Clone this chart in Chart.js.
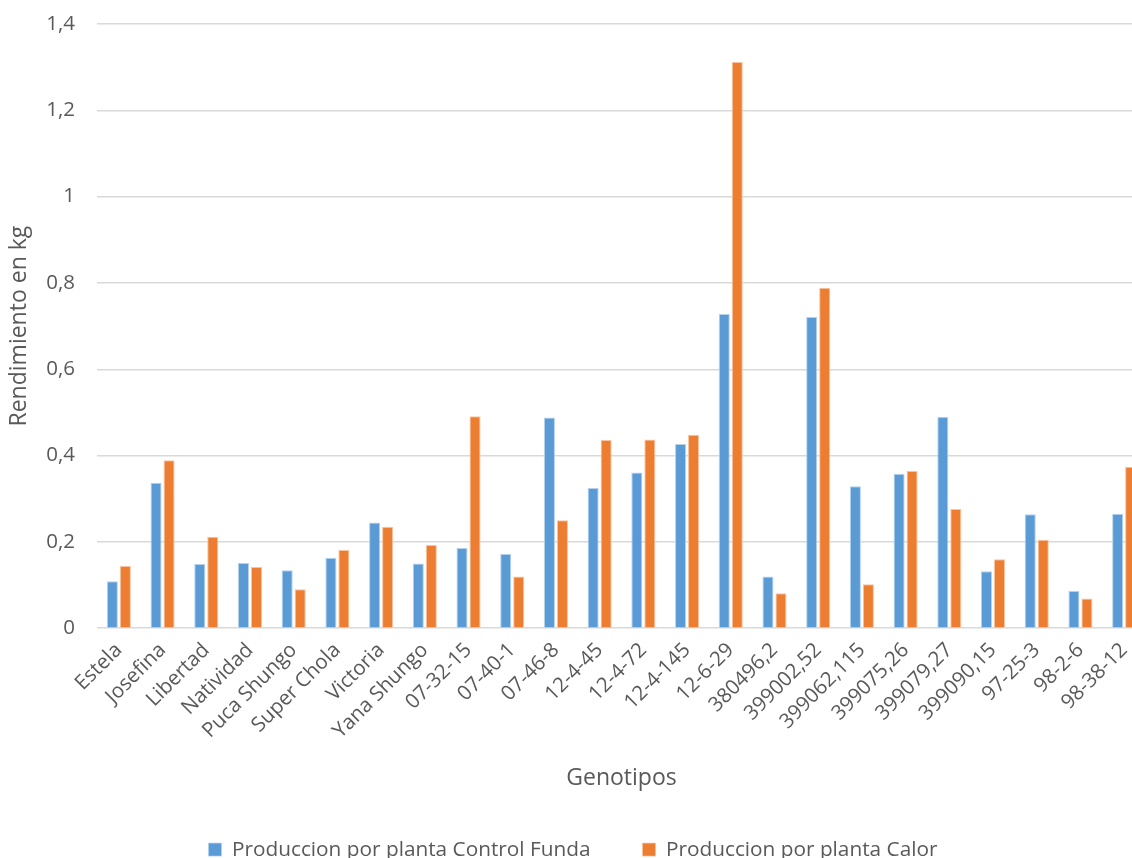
<!DOCTYPE html>
<html>
<head>
<meta charset="utf-8">
<script src="https://cdn.jsdelivr.net/npm/chart.js@4/dist/chart.umd.min.js"></script>
<style>
  html, body { margin: 0; padding: 0; background: #fff; overflow: hidden; }
  #wrap { width: 1160px; height: 858px; }
</style>
</head>
<body>
<div id="wrap"><canvas id="chart"></canvas></div>
<script>
// --- Data ---
const genotipos = [
  'Estela', 'Josefina', 'Libertad', 'Natividad', 'Puca Shungo', 'Super Chola',
  'Victoria', 'Yana Shungo', '07-32-15', '07-40-1', '07-46-8', '12-4-45',
  '12-4-72', '12-4-145', '12-6-29', '380496,2', '399002,52', '399062,115',
  '399075,26', '399079,27', '399090,15', '97-25-3', '98-2-6', '98-38-12'
];
const controlFunda = [
  0.109, 0.337, 0.149, 0.151, 0.134, 0.163, 0.245, 0.150, 0.186, 0.172, 0.488, 0.325,
  0.361, 0.427, 0.728, 0.120, 0.721, 0.329, 0.358, 0.490, 0.132, 0.264, 0.086, 0.265
];
const calor = [
  0.144, 0.389, 0.212, 0.142, 0.090, 0.181, 0.235, 0.193, 0.491, 0.120, 0.250, 0.436,
  0.437, 0.448, 1.312, 0.081, 0.789, 0.102, 0.364, 0.276, 0.160, 0.205, 0.069, 0.374
];
const seriesNames = ['Produccion por planta Control Funda', 'Produccion por planta Calor'];
const yTicks = [0, 0.2, 0.4, 0.6, 0.8, 1, 1.2, 1.4];

const textColor = '#595959';
const font = 'Open Sans';

const ctx = document.getElementById('chart').getContext('2d');
new Chart(ctx, {
  type: 'bar',
  data: {
    labels: genotipos,
    datasets: [
      { label: seriesNames[0], data: controlFunda, backgroundColor: '#5B9BD5', borderColor: '#B4D2EE', borderWidth: { top: 1, left: 1, right: 1 } },
      { label: seriesNames[1], data: calor, backgroundColor: '#ED7D31', borderColor: '#F7C3A0', borderWidth: { top: 1, left: 1, right: 1 } }
    ]
  },
  options: {
    responsive: true,
    maintainAspectRatio: false,
    animation: false,
    layout: { padding: { top: 24, right: 14, bottom: -12, left: 0 } },
    datasets: { bar: { categoryPercentage: 0.595, barPercentage: 0.85 } },
    plugins: {
      tooltip: { enabled: false },
      legend: {
        position: 'bottom',
        labels: {
          color: textColor,
          font: { family: font, size: 20.8 },
          boxWidth: 13, boxHeight: 13,
          padding: 52
        }
      }
    },
    scales: {
      x: {
        grid: { display: false },
        border: { display: false },
        ticks: {
          color: textColor, font: { family: font, size: 20.5 },
          maxRotation: 45, minRotation: 45, autoSkip: false, padding: 2
        },
        title: {
          display: true, text: 'Genotipos', color: textColor,
          font: { family: font, size: 23 }, padding: { top: 0, bottom: -5 }
        },
        afterFit: (scale) => { scale.height = 159; }
      },
      y: {
        min: 0, max: 1.4,
        afterBuildTicks: (scale) => { scale.ticks = yTicks.map(v => ({ value: v })); },
        grid: { color: '#D9D9D9', lineWidth: 1.5, drawTicks: false },
        border: { display: false },
        ticks: {
          color: textColor, font: { family: font, size: 20.5 }, padding: 22,
          callback: (v) => String(Math.round(v * 10) / 10).replace('.', ',')
        },
        title: {
          display: true, text: 'Rendimiento en kg', color: textColor,
          font: { family: font, size: 23 }, padding: { top: 6, bottom: 0 }
        },
        afterFit: (scale) => {
          scale.width = 97;
          scale.paddingTop = 0;
          scale.paddingBottom = 0;
        }
      }
    }
  }
});
</script>
</body>
</html>
